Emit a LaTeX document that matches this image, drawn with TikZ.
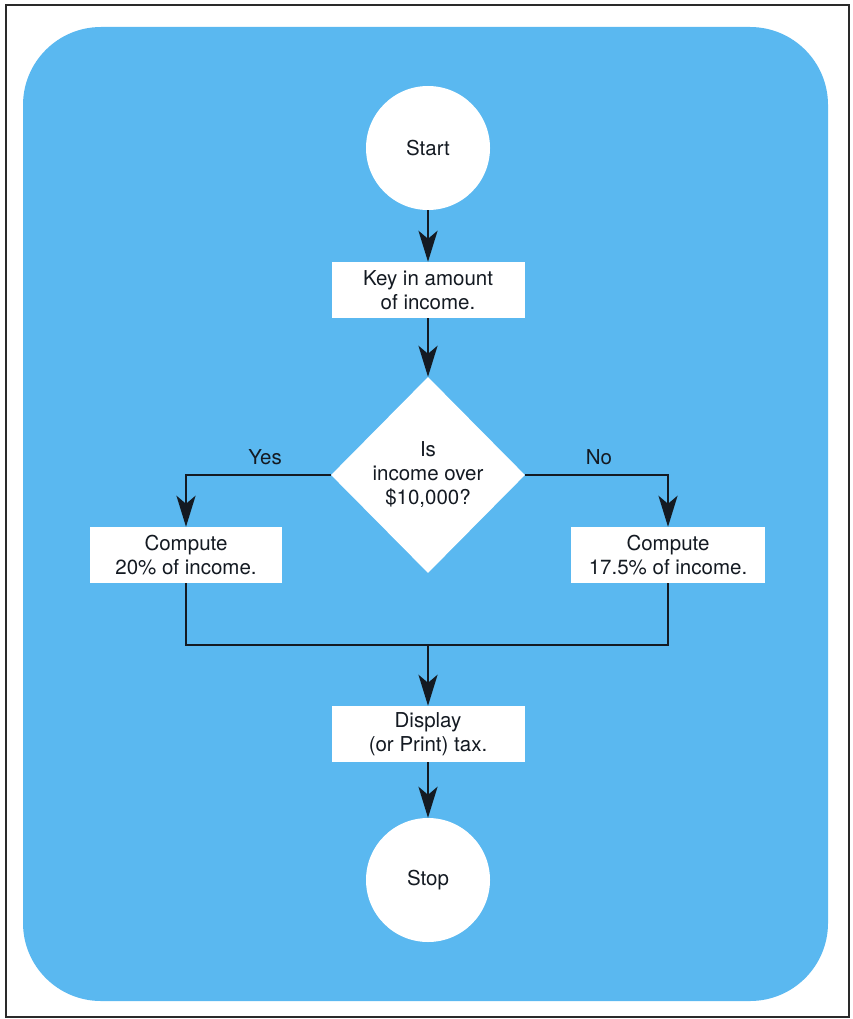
\documentclass[tikz,border=0pt]{standalone}
\usepackage{fontspec}
\setmainfont{TeX Gyre Heros}
\usetikzlibrary{arrows.meta,shapes.geometric}
\definecolor{Sky}{HTML}{5AB8F0}
\definecolor{Ink}{HTML}{141A22}
\definecolor{Frame}{HTML}{2A2A2A}

\tikzset{
  lbl/.style={font=\fontsize{20.5}{24}\selectfont,text=Ink,align=center},
  terminal/.style={lbl,circle,fill=white,minimum size=124pt,inner sep=0pt},
  stepbox/.style={lbl,rectangle,fill=white,minimum width=193pt,minimum height=56pt,inner sep=0pt},
  decide/.style={lbl,diamond,fill=white,minimum width=194pt,minimum height=196pt,inner sep=0pt},
  line/.style={Ink,line width=2.6pt},
  flow/.style={line,-{Stealth[length=31pt,width=19pt,inset=8pt]}}
}

\begin{document}
\begin{tikzpicture}[x=1pt,y=-1pt]
        \useasboundingbox (0,0) rectangle (852,1019);
        \fill[white] (0,0) rectangle (852,1019);
        \draw[Frame,line width=1.6pt] (6,5) rectangle (849,1017);
        \fill[Sky,rounded corners=78pt] (23,27) rectangle (828,1001);
        % boxes
        \node[terminal] (start) at (428,148) {Start};
        \node[stepbox] (key) at (428,290) {Key in amount\\of income.};
        \node[decide] (test) at (428,475) {Is\\income over\\\$10,000?};
        \node[stepbox,minimum width=192pt] (yes) at (186,555) {Compute\\20\% of income.};
        \node[stepbox,minimum width=194pt] (no) at (668,555) {Compute\\17.5\% of income.};
        \node[stepbox] (disp) at (428,734) {Display\\(or Print) tax.};
        \node[terminal] (stop) at (428,880) {Stop};
        \coordinate (join) at (428,645);
        % branch labels
        \node[lbl] (yeslab) at (265,457) {Yes};
        \node[lbl] (nolab) at (599,457) {No};
        % connectors
        \draw[flow] (start.south) -- (key.north);
        \draw[flow] (key.south) -- (test.north);
        \draw[flow] (test.west) -| (yes.north);
        \draw[flow] (test.east) -| (no.north);
        \draw[line] (yes.south) |- (join);
        \draw[line] (no.south) |- (join);
        \draw[flow] (join) -- (disp.north);
        \draw[flow] (disp.south) -- (stop.north);
      \end{tikzpicture}
\end{document}
